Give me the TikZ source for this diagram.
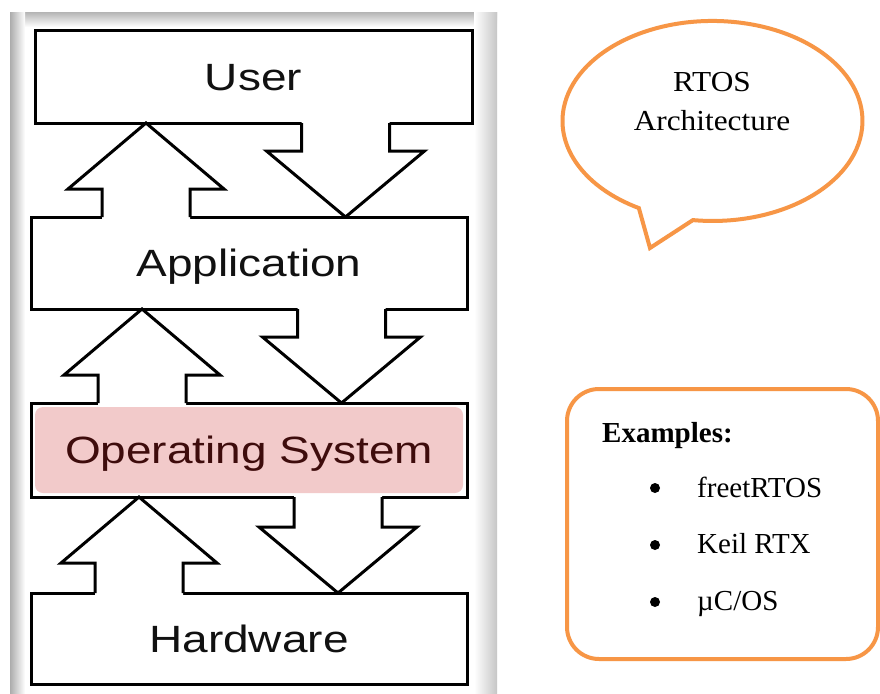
\documentclass[tikz,border=0pt]{standalone}
\usepackage{fontspec}
\usepackage{graphicx}
\setmainfont{Liberation Serif}
\newfontfamily\arialf{Liberation Sans}
\usetikzlibrary{calc}
\definecolor{orng}{RGB}{247,150,70}
\definecolor{ospink}{RGB}{242,202,202}
\definecolor{ostext}{RGB}{62,12,12}
\definecolor{txtblack}{RGB}{17,17,17}
\newcommand\upblock[3]{%
  \coordinate (ap) at (#3,0 |- #1.south);
  \coordinate (stl) at ($(ap)+(-44,66)$);
  \coordinate (str) at ($(ap)+(44,66)$);
  \coordinate (uhl) at ($(ap)+(-78,66)$);
  \coordinate (uhr) at ($(ap)+(78,66)$);
  \coordinate (sbl) at (stl |- #2.north);
  \coordinate (sbr) at (str |- #2.north);
  \fill[white] ($(sbl)+(0,3)$) -- (stl) -- (uhl) -- (ap) -- (uhr) -- (str) -- ($(sbr)+(0,3)$) -- cycle;
  \draw[blk] (sbl) -- (stl) -- (uhl) -- (ap) -- (uhr) -- (str) -- (sbr);
}
\newcommand\downblock[3]{%
  \coordinate (tp) at (#3,0 |- #2.north);
  \coordinate (sl) at (#3-44,0 |- #1.south);
  \coordinate (sr) at (#3+44,0 |- #1.south);
  \coordinate (dhl) at ($(tp)+(-79,-66)$);
  \coordinate (dhr) at ($(tp)+(79,-66)$);
  \coordinate (shl) at (sl |- dhl);
  \coordinate (shr) at (sr |- dhl);
  \fill[white] ($(sl)+(0,-3)$) -- (shl) -- (dhl) -- (tp) -- (dhr) -- (shr) -- ($(sr)+(0,-3)$) -- cycle;
  \draw[blk] (sl) -- (shl) -- (dhl) -- (tp) -- (dhr) -- (shr) -- (sr);
}
\begin{document}
\begin{tikzpicture}[x=1pt,y=-1pt,
  layer/.style={draw=black, line width=3pt, fill=white, inner sep=0pt, outer sep=0pt,
    font=\arialf\fontsize{38}{40}\selectfont, text=txtblack,
    text height=27pt, text depth=0pt},
  blk/.style={draw=black, line width=3pt, line cap=square, line join=miter},
  bub/.style={draw=orng, line width=4pt, line join=miter},
  serift/.style={font=\fontsize{29}{34}\selectfont, text=black, inner sep=0pt},
  dot/.style={circle, fill=black, minimum size=10pt, inner sep=0pt}]
\useasboundingbox (0,0) rectangle (880,693);
\fill[white] (0,0) rectangle (880,693);
% picture frame shadow
\shade[top color=gray!55, bottom color=white] (10,13) rectangle (497,27);
\shade[left color=white, right color=gray!45] (474,13) rectangle (497,693);
\shade[left color=gray!65, right color=white] (10,13) rectangle (25,693);
% layers
\node[layer, minimum width=437pt, minimum height=92pt] (user) at (253.5,77) {\scalebox{1.21}[1]{User}};
\node[layer, minimum width=436pt, minimum height=92pt] (app) at (249,263) {\scalebox{1.21}[1]{Application}};
\node[layer, minimum width=436pt, minimum height=94pt, text=ostext,
  path picture={\fill[ospink, rounded corners=8pt]
    ($(path picture bounding box.south west)+(4,-4)$) rectangle
    ($(path picture bounding box.north east)+(-4,4)$);}] (os) at (249,450) {\scalebox{1.21}[1]{Operating System}};
\node[layer, minimum width=436pt, minimum height=91pt] (hw) at (249,638.5) {\scalebox{1.21}[1]{Hardware}};
% block arrows
\upblock{user}{app}{146}
\downblock{user}{app}{345.5}
\upblock{app}{os}{142}
\downblock{app}{os}{341.5}
\upblock{os}{hw}{139}
\downblock{os}{hw}{338}
% speech bubble
\draw[bub, fill=white] (692.9,220.1) arc[start angle=97.5, end angle=-240.6, x radius=150, y radius=100] -- (650,248) -- cycle;
\node[serift, anchor=base] (rtos1) at (712,92) {\scalebox{1.08}[1]{RTOS}};
\node[serift, anchor=base] (rtos2) at (712,130) {\scalebox{1.08}[1]{Architecture}};
% examples box
\node[draw=orng, line width=4pt, rounded corners=32pt, minimum width=311pt, minimum height=270pt, inner sep=0pt] (exbox) at (722.5,524) {};
\node[serift, anchor=base west, font=\bfseries\fontsize{29}{34}\selectfont] (exh) at (602,442) {Examples:};
\node[dot] (b1) at (655,488) {};
\node[dot] (b2) at (655,545) {};
\node[dot] (b3) at (655,602) {};
\node[serift, anchor=base west] (i1) at (697,497) {freetRTOS};
\node[serift, anchor=base west] (i2) at (697,553) {Keil RTX};
\node[serift, anchor=base west] (i3) at (697,610) {µC/OS};
\end{tikzpicture}
\end{document}
